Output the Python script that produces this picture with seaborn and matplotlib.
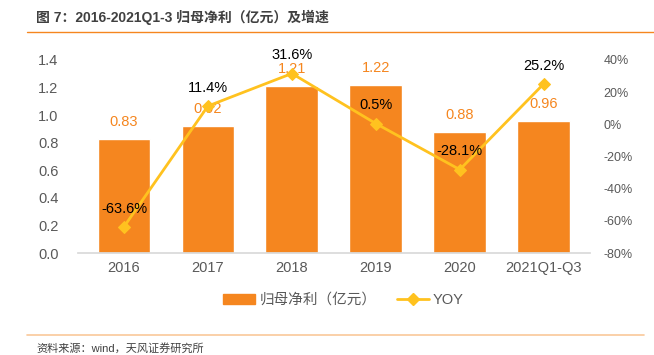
import matplotlib
matplotlib.use("Agg")
import matplotlib.pyplot as plt
import seaborn as sns
import pandas as pd
from matplotlib.lines import Line2D
from matplotlib.patches import Patch

categories = ["2016", "2017", "2018", "2019", "2020", "2021Q1-Q3"]
profit = [0.83, 0.92, 1.21, 1.22, 0.88, 0.96]
yoy = [-63.6, 11.4, 31.6, 0.5, -28.1, 25.2]
left_ticks = [0.0, 0.2, 0.4, 0.6, 0.8, 1.0, 1.2, 1.4]
right_ticks = [-80, -60, -40, -20, 0, 20, 40]

sns.set_theme(style="white")
plt.rcParams['font.family'] = ['Liberation Sans', 'Noto Sans CJK SC', 'DejaVu Sans']

BAR = "#F5861F"
LINE = "#FFC21F"
TXT = "#595959"

df = pd.DataFrame({"cat": categories, "profit": profit, "yoy": yoy})

fig = plt.figure(figsize=(6.54, 3.55), dpi=100)
ax = fig.add_axes([0.119, 0.287, 0.783, 0.544])
sns.barplot(data=df, x="cat", y="profit", color=BAR, width=0.63, ax=ax, saturation=1)
ax.set_ylim(0, 1.4)
ax.set_yticks(left_ticks)
ax.set_yticklabels([f"{v:.1f}" for v in left_ticks], color=TXT, fontsize=10.5)
ax.set_xlim(-0.55, 5.55)
ax.set_xlabel("")
ax.set_ylabel("")
ax.tick_params(axis='x', colors=TXT, labelsize=10.5, length=0, pad=6)
ax.tick_params(axis='y', length=0, pad=14)
for s in ["top", "right", "left"]:
    ax.spines[s].set_visible(False)
ax.spines["bottom"].set_color("#D9D9D9")
for i, v in enumerate(profit):
    ax.annotate(f"{v:.2f}", (i, v), xytext=(0, 7), textcoords="offset points",
                ha="center", va="bottom", color=BAR, fontsize=10.5)

ax2 = ax.twinx()
sns.lineplot(x=list(range(len(categories))), y=yoy, ax=ax2, color=LINE, lw=2,
             marker="D", markersize=6, markeredgecolor=LINE)
ax2.set_ylim(-80, 40)
ax2.set_yticks(right_ticks)
ax2.set_yticklabels([f"{v}%" for v in right_ticks], color=TXT, fontsize=9)
ax2.tick_params(axis='y', length=0, pad=10)
for s in ax2.spines.values():
    s.set_visible(False)
for i, v in enumerate(yoy):
    ax2.annotate(f"{v:.1f}%", (i, v), xytext=(0, 8), textcoords="offset points",
                 ha="center", va="bottom", color="black", fontsize=10.5)

handles = [Patch(color=BAR), Line2D([0], [0], color=LINE, lw=2, marker="D", markersize=6)]
fig.legend(handles, ["归母净利（亿元）", "YOY"], loc="center", bbox_to_anchor=(0.525, 0.155),
           ncol=2, frameon=False, fontsize=10.5, labelcolor=TXT, handlelength=2.2,
           columnspacing=1.4, handletextpad=0.3)

fig.text(0.055, 0.95, "图 7：2016-2021Q1-3 归母净利（亿元）及增速", fontsize=10,
         fontweight="bold", color="#404040", va="center")
fig.add_artist(Line2D([0.042, 1.0], [0.91, 0.91], color="#F5861F", lw=1))
fig.add_artist(Line2D([0.042, 0.985], [0.055, 0.055], color="#F9C89A", lw=1.2))
fig.text(0.055, 0.02, "资料来源：wind，天风证券研究所", fontsize=8, color="#404040", va="center")

fig.savefig("out.png", dpi=100)
